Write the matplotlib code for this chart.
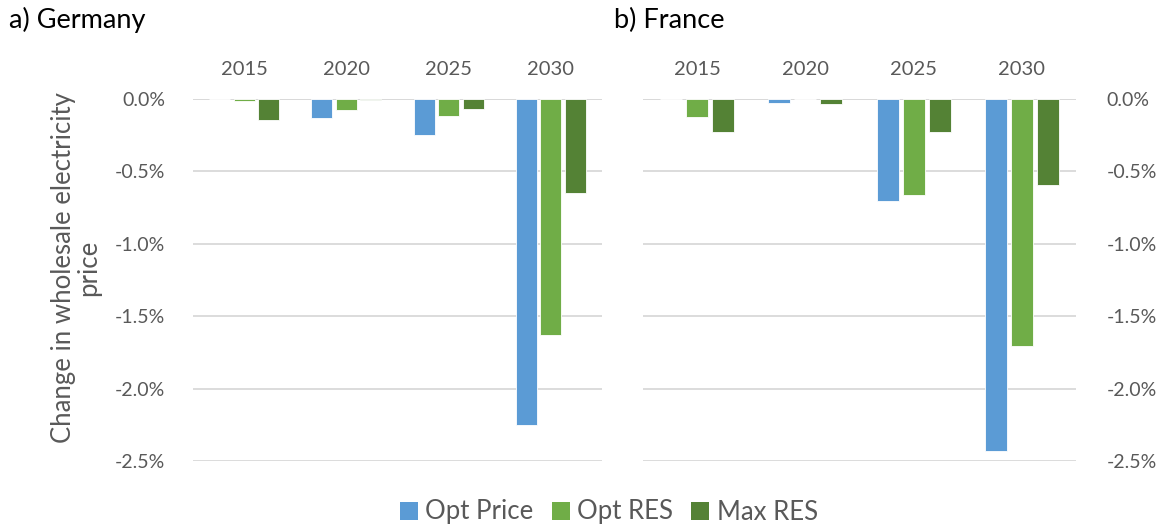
import matplotlib
matplotlib.use("Agg")
import matplotlib.pyplot as plt
import numpy as np
from matplotlib.ticker import FuncFormatter
from matplotlib.patches import Patch

plt.rcParams['font.family'] = ['Lato', 'DejaVu Sans']

years = ["2015", "2020", "2025", "2030"]
series = ["Opt Price", "Opt RES", "Max RES"]
colors = ["#5B9BD5", "#70AD47", "#548235"]

germany_opt_price = [0.0, -0.129, -0.248, -2.248]
germany_opt_res = [-0.012, -0.078, -0.115, -1.633]
germany_max_res = [-0.143, -0.005, -0.071, -0.650]

france_opt_price = [0.0, -0.028, -0.707, -2.430]
france_opt_res = [-0.124, 0.0, -0.660, -1.707]
france_max_res = [-0.230, -0.032, -0.225, -0.594]

yticks = [0.0, -0.5, -1.0, -1.5, -2.0, -2.5]

W, H = 1158, 528
fig = plt.figure(figsize=(W / 100, H / 100), dpi=100)

ax1 = fig.add_axes([193 / W, (H - 461) / H, 409 / W, 362 / H])
ax2 = fig.add_axes([643 / W, (H - 461) / H, 433 / W, 362 / H])

grey = "#595959"
fmt = FuncFormatter(lambda v, p: f"{v:.1f}%")

def draw(ax, data, right=False):
    x = np.arange(len(years))
    bw = 0.205
    step = 0.24
    for i, (vals, c) in enumerate(zip(data, colors)):
        ax.bar(x + (i - 1) * step, vals, width=bw, color=c, edgecolor="white",
               linewidth=0.6, zorder=3)
    ax.set_xlim(-0.5, len(years) - 0.5)
    ax.set_ylim(-2.5, 0.0)
    ax.set_yticks(yticks)
    ax.yaxis.set_major_formatter(fmt)
    ax.grid(axis="y", color="#D9D9D9", linewidth=1.3, zorder=0)
    ax.set_axisbelow(True)
    for s in ax.spines.values():
        s.set_visible(False)
    ax.xaxis.tick_top()
    ax.set_xticks(x)
    ax.set_xticklabels(years)
    ax.tick_params(axis="x", length=0, pad=15, labelsize=14.5, labelcolor=grey)
    ax.tick_params(axis="y", length=0, pad=20, labelsize=14, labelcolor=grey)
    if right:
        ax.yaxis.tick_right()
        ax.tick_params(axis="y", length=0, pad=22)
    ax.axhline(0, color="#D9D9D9", linewidth=1.3, zorder=1)

draw(ax1, [germany_opt_price, germany_opt_res, germany_max_res])
draw(ax2, [france_opt_price, france_opt_res, france_max_res], right=True)

fig.text(9 / W, 1 - 20 / H, "a) Germany", fontsize=19.5, ha="left", va="center", color="black")
fig.text(614 / W, 1 - 20 / H, "b) France", fontsize=19.5, ha="left", va="center", color="black")

fig.text(76 / W, 1 - 268 / H, "Change in wholesale electricity\nprice", rotation=90,
         ha="center", va="center", multialignment="center", fontsize=18.5, color=grey,
         linespacing=1.05)

handles = [Patch(facecolor=c, edgecolor="none") for c in colors]
fig.legend(handles, series, loc="center", bbox_to_anchor=(609 / W, 1 - 512 / H),
           ncol=3, frameon=False, fontsize=18.5, handlelength=0.7, handleheight=0.7,
           handletextpad=0.3, columnspacing=0.7, labelcolor=grey)

fig.savefig("out.png", dpi=100)
